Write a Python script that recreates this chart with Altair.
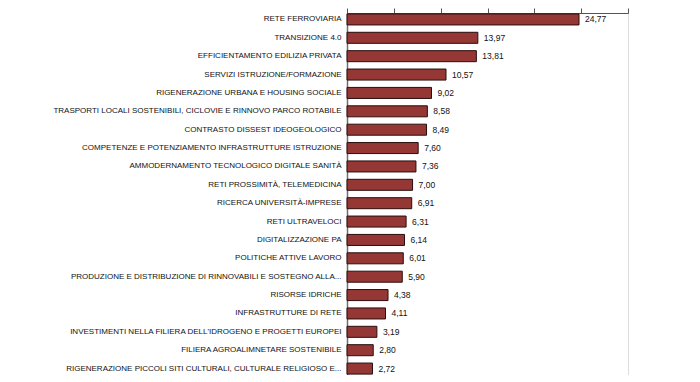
import altair as alt
import pandas as pd

categories = [
    "RETE FERROVIARIA",
    "TRANSIZIONE 4.0",
    "EFFICIENTAMENTO EDILIZIA PRIVATA",
    "SERVIZI ISTRUZIONE/FORMAZIONE",
    "RIGENERAZIONE URBANA E HOUSING SOCIALE",
    "TRASPORTI LOCALI SOSTENIBILI, CICLOVIE E RINNOVO PARCO ROTABILE",
    "CONTRASTO DISSEST IDEOGEOLOGICO",
    "COMPETENZE E POTENZIAMENTO INFRASTRUTTURE ISTRUZIONE",
    "AMMODERNAMENTO TECNOLOGICO DIGITALE SANITÀ",
    "RETI PROSSIMITÀ, TELEMEDICINA",
    "RICERCA UNIVERSITÀ-IMPRESE",
    "RETI ULTRAVELOCI",
    "DIGITALIZZAZIONE PA",
    "POLITICHE ATTIVE LAVORO",
    "PRODUZIONE E DISTRIBUZIONE DI RINNOVABILI E SOSTEGNO ALLA...",
    "RISORSE IDRICHE",
    "INFRASTRUTTURE DI RETE",
    "INVESTIMENTI NELLA FILIERA DELL'IDROGENO E PROGETTI EUROPEI",
    "FILIERA AGROALIMNETARE SOSTENIBILE",
    "RIGENERAZIONE PICCOLI SITI CULTURALI, CULTURALE RELIGIOSO E...",
]
values = [24.77, 13.97, 13.81, 10.57, 9.02, 8.58, 8.49, 7.60, 7.36, 7.00,
          6.91, 6.31, 6.14, 6.01, 5.90, 4.38, 4.11, 3.19, 2.80, 2.72]
x_ticks = [0, 5, 10, 15, 20, 25, 30]

df = pd.DataFrame({"cat": categories, "v": values})

FONT = "Liberation Sans, Arial, sans-serif"
FS = 8.0

y_enc = alt.Y("cat:N", sort=categories, title=None,
              scale=alt.Scale(paddingInner=0.4, paddingOuter=0.05),
              axis=alt.Axis(ticks=False, domain=True, domainColor="#6f6f6f",
                            domainWidth=1.5, labelFont=FONT, labelFontSize=FS,
                            labelColor="#111111", labelPadding=6, labelLimit=400))
x_enc = alt.X("v:Q", title=None,
              scale=alt.Scale(domain=[0, 30], nice=False),
              axis=alt.Axis(orient="top", values=x_ticks, labels=False, grid=False,
                            domainColor="#555555", domainWidth=1, tickColor="#555555",
                            tickSize=5, tickWidth=1))

bars = alt.Chart(df).mark_bar(color="#953735", stroke="#2a0d0d", strokeWidth=1).encode(
    x=x_enc, y=y_enc)

text = alt.Chart(df).transform_calculate(
    lab="replace(format(datum.v, '.2f'), '.', ',')"
).mark_text(align="left", baseline="middle", dx=6, font=FONT, fontSize=FS + 0.5,
            color="#111111").encode(
    x=alt.X("v:Q"), y=alt.Y("cat:N", sort=categories), text="lab:N")

chart = alt.layer(bars, text).properties(
    width=281, height=362,
    autosize=alt.AutoSizeParams(type="none"),
    padding={"left": 339, "top": 5, "right": 20, "bottom": 0},
).configure_view(stroke=None).configure(background="white")

chart.save("out.html", embed_options={"renderer": "svg", "actions": False})
